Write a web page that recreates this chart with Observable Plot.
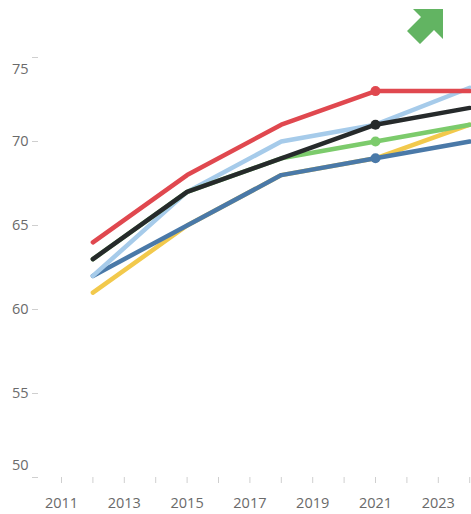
<!DOCTYPE html>
<html>
<head>
<meta charset="utf-8">
<script src="https://cdn.jsdelivr.net/npm/d3@7"></script>
<script src="https://cdn.jsdelivr.net/npm/@observablehq/plot@0.6"></script>
<style>
  html, body { margin: 0; padding: 0; background: #fff; overflow: hidden; width: 471px; height: 514px; }
  #wrap { position: relative; width: 471px; height: 514px; overflow: hidden; }
  #wrap > svg { max-width: none !important; }
  #arrow { position: absolute; left: 0; top: 0; }
</style>
</head>
<body>
<div id="wrap"></div>
<script>
const years = [2012, 2015, 2018, 2021, 2024];
const seriesNames = ["S-yellow", "S-darkblue", "S-lightblue", "S-green", "S-black", "S-red"];
const yellowVals    = [61, 65, 68, 69, 71];
const darkBlueVals  = [62, 65, 68, 69, 70];
const lightBlueVals = [62, 67, 70, 71, 73.2];
const greenVals     = [63, 67, 69, 70, 71];
const blackVals     = [63, 67, 69, 71, 72];
const redVals       = [64, 68, 71, 73, 73];
const seriesColors = ["#f2c94c", "#4a79a8", "#a6cbea", "#7ccb6c", "#262a2b", "#e0484f"];
const dotYear = 2021;
const dotSeries = ["S-darkblue", "S-green", "S-black", "S-red"];
const yTicks = [50, 55, 60, 65, 70, 75];
const xTicks = d3.range(2011, 2026);
const xLabelTicks = [2011, 2013, 2015, 2017, 2019, 2021, 2023];

const valueLists = [yellowVals, darkBlueVals, lightBlueVals, greenVals, blackVals, redVals];
const rows = seriesNames.flatMap((s, k) => years.map((yr, i) => ({series: s, year: yr, value: valueLists[k][i]})));
const dots = rows.filter(d => d.year === dotYear && dotSeries.includes(d.series));

const font = "'Open Sans', sans-serif";
const chart = Plot.plot({
  width: 500,
  height: 514,
  marginLeft: 38,
  marginRight: 0,
  marginTop: 57,
  marginBottom: 37,
  style: {fontFamily: font, fontSize: "14.5px", color: "#6a6a6a", background: "#fff", maxWidth: "none"},
  x: {type: "linear", domain: [2011 - 23 / 31.4, 2011 + 439 / 31.4]},
  y: {domain: [50, 75]},
  color: {type: "ordinal", domain: seriesNames, range: seriesColors},
  marks: [
    Plot.axisX({ticks: xTicks, tickSize: 6, tickFormat: () => "", stroke: "#cfcfcf", label: null}),
    Plot.axisX({ticks: xLabelTicks, tickSize: 0, tickPadding: 20, tickFormat: d => String(d), fill: "#6a6a6a", label: null}),
    Plot.axisY({ticks: yTicks, tickSize: 6, tickFormat: () => "", stroke: "#cfcfcf", label: null}),
    Plot.axisY({ticks: [55, 60, 65, 70], tickSize: 0, tickPadding: 10, fill: "#6a6a6a", label: null}),
    Plot.axisY({ticks: [75], tickSize: 0, tickPadding: 10, dy: 12, fill: "#6a6a6a", label: null}),
    Plot.axisY({ticks: [50], tickSize: 0, tickPadding: 10, dy: -12, fill: "#6a6a6a", label: null}),
    Plot.line(rows, {x: "year", y: "value", z: "series", stroke: "series", strokeWidth: 4.5, strokeLinecap: "round", strokeLinejoin: "round"}),
    Plot.dot(dots, {x: "year", y: "value", fill: "series", r: 5})
  ]
});
chart.style.maxWidth = "none";
document.getElementById("wrap").appendChild(chart);

const ns = "http://www.w3.org/2000/svg";
const arrow = document.createElementNS(ns, "svg");
arrow.setAttribute("id", "arrow");
arrow.setAttribute("width", "471");
arrow.setAttribute("height", "60");
const p = document.createElementNS(ns, "polygon");
p.setAttribute("points", "413,9 443,9 443,39 434,30 420,44 407,31 421,17");
p.setAttribute("fill", "#62b462");
arrow.appendChild(p);
document.getElementById("wrap").appendChild(arrow);
</script>
</body>
</html>
